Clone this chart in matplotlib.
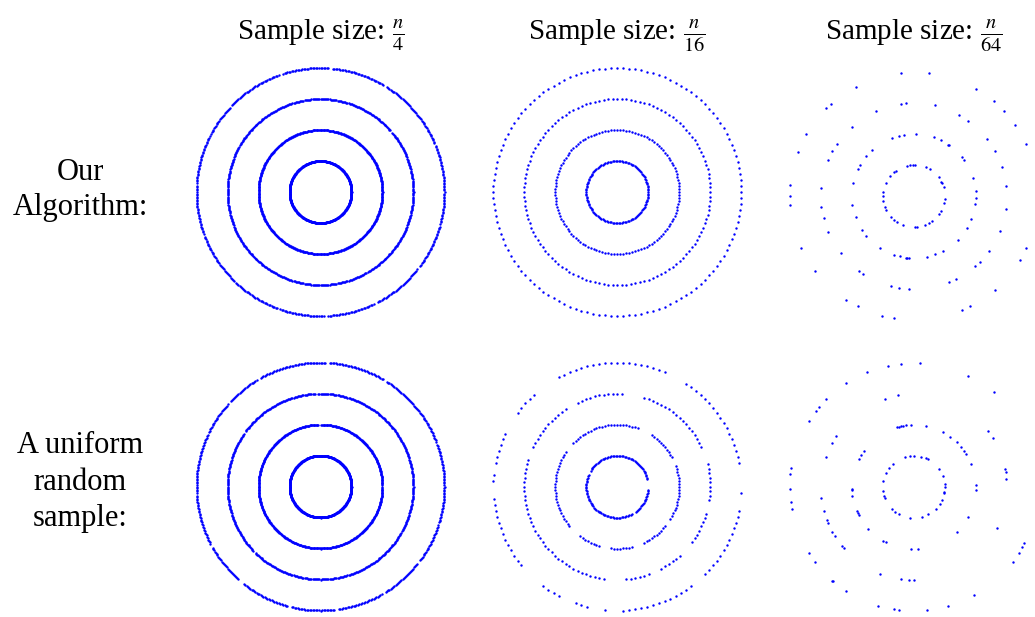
import numpy as np
import matplotlib
matplotlib.use("Agg")
import matplotlib.pyplot as plt

plt.rcParams['font.family'] = ['Liberation Serif', 'DejaVu Serif']
plt.rcParams['mathtext.fontset'] = 'stix'

col_titles = [r'Sample size: $\frac{n}{4}$',
              r'Sample size: $\frac{n}{16}$',
              r'Sample size: $\frac{n}{64}$']
row_labels = ['Our\nAlgorithm:', 'A uniform\nrandom\nsample:']

ring_radii = [1, 2, 3, 4]
# points per ring in the dense columns (n/4, n/16)
ring_points = [512, 128]

# dense panels: arcs (degrees) left empty, one list per ring
ours_n4_gaps = [
    [],
    [],
    [(40, 40.8), (150, 150.8), (300, 300.8)],
    [(22, 23), (58, 59.5), (85, 86), (108, 109), (136, 137), (152, 153), (176, 177),
     (200, 201), (226, 227), (250, 251), (272, 273), (296, 297), (322, 323), (344, 345)],
]
rand_n4_gaps = [
    [],
    [(0, 1), (90, 91.5)],
    [(92, 93), (144, 145), (224, 225.5), (330, 331)],
    [(20, 21), (58, 59.5), (86, 87.5), (119, 120.5), (137, 138.5), (154, 155), (183, 184),
     (208, 209), (229, 232), (255, 256), (277, 278), (300, 301), (322, 323), (342, 343)],
]
ours_n16_gaps = [[], [], [], []]
rand_n16_gaps = [
    [(-5, 13), (150, 157), (300, 306)],
    [(20, 28), (59, 68), (137, 144), (221, 232), (254, 262), (285, 294), (322, 329)],
    [(16, 24), (74, 86), (116, 123), (157, 163), (264, 273), (292, 297), (314, 323), (344, 351)],
    [(-1, 9), (59, 65), (120, 132), (146, 152), (170, 174), (178, 184), (220, 231),
     (242, 250), (258, 264), (266, 272), (308, 314), (349, 356)],
]

# n/64 panels: angle (degrees) of each point, one list per ring
ours_n64_angles = [
    [103, 97, 91, 88, 67, 59, 37, 27, 24, 16, 355, 346, 331, 325, 305, 300, 292, 273, 275,
     249, 237, 230, 222, 207, 201, 189, 180, 172, 155, 141, 130, 125],
    [111, 104, 99, 88, 71, 64, 56, 55, 39, 36, 17, 5, 358, 353, 338, 329, 315, 298, 290, 282,
     266, 264, 263, 257, 251, 237, 220, 213, 200, 188, 168, 154, 150, 140, 132],
    [98, 95, 77, 61, 54, 38, 29, 18, 6, 352, 338, 324, 315, 311, 297, 292, 267, 261, 256,
     237, 234, 218, 203, 194, 187, 175, 157, 151, 146, 132, 114],
    [96, 83, 118, 132, 135, 150, 159, 175, 180, 184, 205, 217, 237, 243, 255, 261, 293, 297,
     311, 329, 335, 350, 10, 25, 35, 43, 50, 60],
]
rand_n64_angles = [
    [107, 97, 89, 77, 67, 63, 35, 20, 6, 0, 351, 348, 335, 327, 315, 298, 285, 263, 242,
     233, 224, 200, 196, 187, 168, 154, 142, 131],
    [106, 104, 102, 100, 97, 93, 79, 62, 54, 46, 40, 36, 32, 22, 2, 357, 331, 314, 274, 267,
     243, 240, 223, 207, 205, 203, 188, 183, 182, 153, 149, 144],
    [108, 100, 147, 152, 161, 187, 195, 201, 203, 209, 212, 219, 221, 249, 262, 267, 270,
     334, 5, 9, 11, 32, 37],
    [102, 96, 87, 112, 123, 135, 140, 142, 148, 64, 50, 171, 174, 181, 187, 190, 212, 217,
     229, 229.5, 237, 253, 261, 263, 276, 286, 299, 333, 331, 328, 323, 8],
]

W, H = 1035, 617
centers_x = [320.5, 617.3, 913.8]
centers_y = [[192, 192, 196], [486.5, 486.7, 487]]
half = 140      # half size of a panel, px
unit_px = 31    # px per unit of radius
dot_color = '#0000ff'

fig = plt.figure(figsize=(W / 100, H / 100), dpi=100)


def even_angles(n, gaps):
    a = np.arange(n) * 360.0 / n
    keep = np.ones(n, bool)
    for lo, hi in gaps:
        keep &= ((a - lo) % 360) >= (hi - lo)
    return a[keep]


def add_panel(cx, cy):
    ax = fig.add_axes([(cx - half) / W, 1 - (cy + half) / H, 2 * half / W, 2 * half / H])
    lim = half / unit_px
    ax.set_xlim(-lim, lim)
    ax.set_ylim(-lim, lim)
    ax.axis('off')
    return ax


def draw_rings(ax, angle_lists):
    for r, ang in zip(ring_radii, angle_lists):
        t = np.radians(np.asarray(ang, float))
        ax.scatter(r * np.cos(t), r * np.sin(t), s=3, c=dot_color, linewidths=0)


panels = [
    [[even_angles(ring_points[0], g) for g in ours_n4_gaps],
     [even_angles(ring_points[1], g) for g in ours_n16_gaps],
     ours_n64_angles],
    [[even_angles(ring_points[0], g) for g in rand_n4_gaps],
     [even_angles(ring_points[1], g) for g in rand_n16_gaps],
     rand_n64_angles],
]

for i in range(2):
    for j in range(3):
        ax = add_panel(centers_x[j], centers_y[i][j])
        draw_rings(ax, panels[i][j])

for j, t in enumerate(col_titles):
    fig.text(centers_x[j] / W, 1 - 39 / H, t, ha='center', va='baseline', fontsize=21)

fig.text(80 / W, 1 - 190 / H, row_labels[0], ha='center', va='center',
         multialignment='center', fontsize=22, linespacing=1.28)
fig.text(80 / W, 1 - 482 / H, row_labels[1], ha='center', va='center',
         multialignment='center', fontsize=22, linespacing=1.33)

fig.savefig('out.png', dpi=100)
